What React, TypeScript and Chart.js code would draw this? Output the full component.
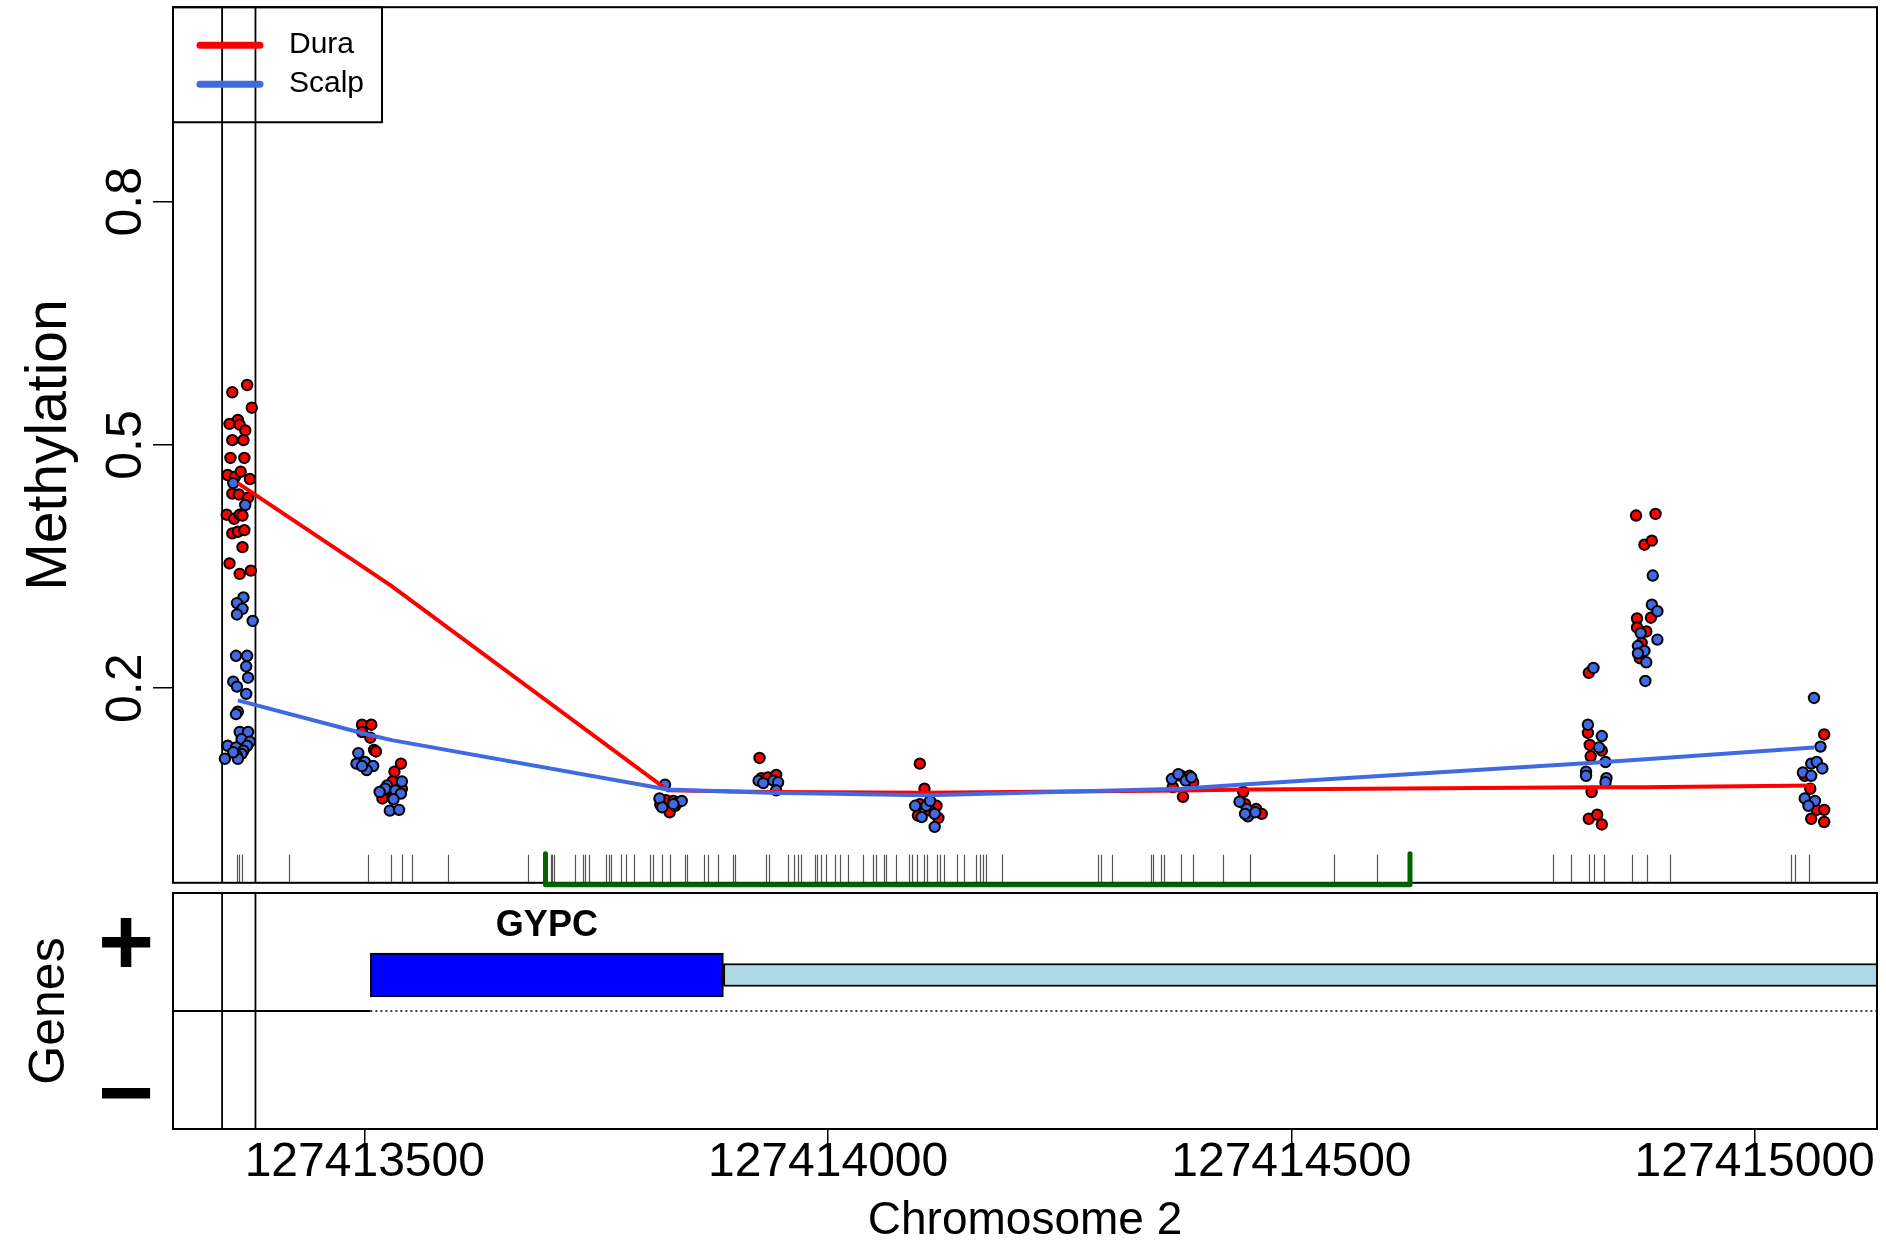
import React, { useEffect, useRef } from 'react';
import { Chart, registerables } from 'chart.js';
Chart.register(...registerables);

const FONT = '"Liberation Sans", Arial, Helvetica, sans-serif';
Chart.defaults.font.family = FONT;
Chart.defaults.color = '#000';

// ---------- axis ranges & ticks ----------
const X_MIN = 127413293;
const X_MAX = 127415132;
const xTickValues = [127413500, 127414000, 127414500, 127415000];
const yTickValues = [0.2, 0.5, 0.8];
const xTitle = 'Chromosome 2';
const yTitle = 'Methylation';
const genesTitle = 'Genes';
const strandTickValues = [0.53, -0.74];
const strandLabels = ['+', '\u2212'];

// ---------- methylation points ----------
const duraPos = [
  127413373, 127413357, 127413378, 127413363, 127413354, 127413365, 127413371, 127413357, 127413369, 127413355,
  127413370, 127413352, 127413360, 127413366, 127413376, 127413357, 127413364, 127413374, 127413351, 127413359,
  127413365, 127413368, 127413357, 127413363, 127413370, 127413368, 127413354, 127413365, 127413377,
  127413497, 127413507, 127413497, 127413506, 127413510, 127413512,
  127413539, 127413532, 127413530, 127413540, 127413520, 127413527, 127413519, 127413531,
  127413825, 127413819, 127413829, 127413833, 127413835,
  127413926, 127413928, 127413935, 127413944,
  127414099, 127414104, 127414099, 127414117, 127414097, 127414119, 127414110,
  127414381, 127414390, 127414372, 127414383, 127414394,
  127414448, 127414450, 127414462, 127414455, 127414468,
  127414821, 127414820, 127414822, 127414823, 127414835, 127414824, 127414821, 127414830, 127414835,
  127414872, 127414893, 127414881, 127414889, 127414873, 127414888, 127414873, 127414883, 127414878, 127414876,
  127415075, 127415054, 127415060, 127415067, 127415075, 127415061, 127415075,
];
const duraMeth = [
  0.574, 0.565, 0.546, 0.531, 0.526, 0.525, 0.518, 0.506, 0.506, 0.484,
  0.484, 0.463, 0.461, 0.467, 0.458, 0.440, 0.439, 0.435, 0.414, 0.409,
  0.414, 0.413, 0.391, 0.393, 0.395, 0.374, 0.354, 0.341, 0.345,
  0.155, 0.155, 0.146, 0.139, 0.124, 0.122,
  0.107, 0.097, 0.085, 0.076, 0.074, 0.067, 0.064, 0.067,
  0.062, 0.056, 0.047, 0.061, 0.055,
  0.114, 0.089, 0.090, 0.093,
  0.107, 0.076, 0.057, 0.055, 0.043, 0.040, 0.049,
  0.092, 0.092, 0.078, 0.066, 0.084,
  0.072, 0.057, 0.051, 0.045, 0.045,
  0.219, 0.145, 0.130, 0.116, 0.123, 0.072, 0.039, 0.044, 0.032,
  0.413, 0.415, 0.377, 0.382, 0.286, 0.287, 0.275, 0.270, 0.256, 0.237,
  0.143, 0.092, 0.076, 0.050, 0.050, 0.039, 0.035,
];
const scalpPos = [
  127413358, 127413371, 127413369, 127413362, 127413368, 127413362, 127413379, 127413361, 127413373, 127413372,
  127413374, 127413358, 127413362, 127413372, 127413363, 127413361, 127413365, 127413374, 127413367, 127413376,
  127413373, 127413352, 127413361, 127413369, 127413367, 127413362, 127413363, 127413349, 127413358,
  127413493, 127413491, 127413500, 127413509, 127413502, 127413497,
  127413524, 127413540, 127413522, 127413533, 127413539, 127413531, 127413527, 127413537, 127413516,
  127413824, 127413818, 127413838, 127413842, 127413821, 127413833,
  127413925, 127413930, 127413941, 127413946, 127413944,
  127414106, 127414115, 127414101, 127414115, 127414110, 127414094,
  127414371, 127414378, 127414386, 127414392,
  127414444, 127414452, 127414453, 127414461, 127414450,
  127414826, 127414820, 127414835, 127414832, 127414839, 127414818, 127414818, 127414840, 127414839,
  127414890, 127414889, 127414895, 127414877, 127414895, 127414874, 127414881, 127414874, 127414883, 127414882,
  127415064, 127415071, 127415061, 127415067, 127415073, 127415052, 127415061, 127415054, 127415065, 127415058,
];
const scalpMeth = [
  0.453, 0.426, 0.312, 0.305, 0.298, 0.291, 0.283, 0.240, 0.240, 0.227,
  0.213, 0.208, 0.202, 0.193, 0.171, 0.168, 0.146, 0.146, 0.137, 0.134,
  0.129, 0.129, 0.127, 0.123, 0.119, 0.117, 0.113, 0.113, 0.121,
  0.120, 0.107, 0.109, 0.104, 0.099, 0.104,
  0.080, 0.085, 0.076, 0.074, 0.070, 0.063, 0.049, 0.050, 0.072,
  0.081, 0.064, 0.059, 0.061, 0.053, 0.057,
  0.086, 0.083, 0.086, 0.084, 0.074,
  0.055, 0.045, 0.041, 0.029, 0.061, 0.055,
  0.088, 0.094, 0.086, 0.090,
  0.060, 0.051, 0.042, 0.047, 0.045,
  0.225, 0.155, 0.141, 0.127, 0.109, 0.097, 0.092, 0.089, 0.084,
  0.339, 0.303, 0.295, 0.268, 0.260, 0.252, 0.246, 0.243, 0.232, 0.209,
  0.188, 0.128, 0.107, 0.109, 0.101, 0.096, 0.092, 0.064, 0.061, 0.055,
];

// ---------- smoothed group means ----------
const smoothPos = [127413363, 127413503, 127413529, 127413827, 127413937, 127414106, 127414381, 127414456, 127414826, 127414878, 127415064];
const duraSmooth = [0.453, 0.346, 0.326, 0.074, 0.072, 0.071, 0.074, 0.075, 0.078, 0.078, 0.080];
const scalpSmooth = [0.185, 0.143, 0.136, 0.075, 0.071, 0.068, 0.076, 0.082, 0.108, 0.112, 0.127];

// ---------- CpG rug, island, DMR ----------
const cpgPos = [
  127413362, 127413364, 127413367, 127413418, 127413503, 127413528, 127413540, 127413551, 127413590, 127413676,
  127413701, 127413702, 127413704, 127413727, 127413736, 127413738, 127413742, 127413760, 127413764, 127413766,
  127413777, 127413782, 127413791, 127413808, 127413811, 127413821, 127413829, 127413846, 127413848, 127413866,
  127413870, 127413881, 127413897, 127413900, 127413933, 127413936, 127413957, 127413963, 127413968, 127413971,
  127413986, 127413988, 127413992, 127413998, 127414007, 127414013, 127414021, 127414038, 127414048, 127414052,
  127414060, 127414062, 127414073, 127414087, 127414091, 127414096, 127414104, 127414107, 127414118, 127414121,
  127414125, 127414139, 127414147, 127414160, 127414164, 127414167, 127414170, 127414188, 127414291, 127414295,
  127414306, 127414348, 127414351, 127414359, 127414362, 127414381, 127414394, 127414426, 127414455, 127414546,
  127414592, 127414782, 127414802, 127414821, 127414827, 127414837, 127414868, 127414884, 127414909, 127415039,
  127415044, 127415059,
];
const islandRange = [127413695, 127414628];
const dmrBounds = [127413346, 127413382];

// ---------- gene model ----------
const geneName = 'GYPC';
const geneStart = 127413506;
const exonEnd = 127413887;
const geneEnd = 127454247;
const geneTrackY = 0.305;
const geneLabelY = 0.72;

const RED = '#FF0000';
const BLUE = '#4169E1';

function zip(xs: number[], ys: number[]) {
  return xs.map((x, i) => ({ x, y: ys[i] }));
}

const topDecor = {
  id: 'topDecor',
  beforeDatasetsDraw(chart: any) {
    const { ctx, chartArea: a, scales } = chart;
    const x = scales.x;
    ctx.save();
    ctx.beginPath();
    ctx.rect(a.left, a.top, a.width, a.height);
    ctx.clip();
    ctx.strokeStyle = '#555';
    ctx.lineWidth = 1.2;
    cpgPos.forEach((p) => {
      const px = Math.round(x.getPixelForValue(p)) + 0.5;
      ctx.beginPath();
      ctx.moveTo(px, a.bottom - 28);
      ctx.lineTo(px, a.bottom);
      ctx.stroke();
    });
    ctx.strokeStyle = '#000';
    ctx.lineWidth = 1.8;
    dmrBounds.forEach((p) => {
      const px = x.getPixelForValue(p);
      ctx.beginPath();
      ctx.moveTo(px, a.top);
      ctx.lineTo(px, a.bottom);
      ctx.stroke();
    });
    ctx.restore();
  },
  afterDraw(chart: any) {
    const { ctx, chartArea: a, scales } = chart;
    const x = scales.x;
    ctx.save();
    // panel box
    ctx.strokeStyle = '#000';
    ctx.lineWidth = 2;
    ctx.strokeRect(a.left, a.top, a.width, a.height);
    // CpG island bracket (drawn over the box edge)
    const x1 = x.getPixelForValue(islandRange[0]);
    const x2 = x.getPixelForValue(islandRange[1]);
    ctx.strokeStyle = '#006400';
    ctx.lineWidth = 5;
    ctx.lineCap = 'round';
    ctx.lineJoin = 'round';
    ctx.beginPath();
    ctx.moveTo(x1, a.bottom - 29);
    ctx.lineTo(x1, a.bottom + 2);
    ctx.lineTo(x2, a.bottom + 2);
    ctx.lineTo(x2, a.bottom - 29);
    ctx.stroke();
    // legend
    const items = chart.data.datasets
      .filter((d: any) => d.legendRank !== undefined)
      .sort((p: any, q: any) => p.legendRank - q.legendRank);
    const lx = a.left, ly = a.top;
    ctx.lineCap = 'butt';
    ctx.strokeStyle = '#000';
    ctx.lineWidth = 2;
    ctx.strokeRect(lx, ly, 209, 115);
    items.forEach((d: any, i: number) => {
      const yy = ly + 38 + i * 39;
      ctx.strokeStyle = d.borderColor;
      ctx.lineWidth = 7;
      ctx.lineCap = 'round';
      ctx.beginPath();
      ctx.moveTo(lx + 27, yy);
      ctx.lineTo(lx + 87, yy);
      ctx.stroke();
      ctx.fillStyle = '#000';
      ctx.font = `30px ${FONT}`;
      ctx.textAlign = 'left';
      ctx.textBaseline = 'middle';
      ctx.fillText(d.label, lx + 116, yy);
    });
    ctx.restore();
  },
};

const bottomDecor = {
  id: 'bottomDecor',
  beforeDatasetsDraw(chart: any) {
    const { ctx, chartArea: a, scales } = chart;
    const x = scales.x;
    ctx.save();
    ctx.strokeStyle = '#000';
    ctx.lineWidth = 1.8;
    dmrBounds.forEach((p) => {
      const px = x.getPixelForValue(p);
      ctx.beginPath();
      ctx.moveTo(px, a.top);
      ctx.lineTo(px, a.bottom);
      ctx.stroke();
    });
    ctx.restore();
  },
  afterDraw(chart: any) {
    const { ctx, chartArea: a, scales } = chart;
    const x = scales.x;
    const y = scales.y;
    ctx.save();
    ctx.fillStyle = '#000';
    ctx.font = `bold 36px ${FONT}`;
    ctx.textAlign = 'center';
    ctx.textBaseline = 'middle';
    const cx = (x.getPixelForValue(geneStart) + x.getPixelForValue(exonEnd)) / 2;
    ctx.fillText(geneName, cx, y.getPixelForValue(geneLabelY));
    ctx.strokeStyle = '#000';
    ctx.lineWidth = 2;
    ctx.strokeRect(a.left, a.top, a.width, a.height);
    ctx.restore();
  },
};

const fitY = (s: any) => { s.width = 173; s.paddingTop = 0; s.paddingBottom = 0; };

export default function App() {
  const topRef = useRef<HTMLCanvasElement>(null);
  const botRef = useRef<HTMLCanvasElement>(null);

  useEffect(() => {
    const top = new Chart(topRef.current as HTMLCanvasElement, {
      type: 'scatter',
      data: {
        datasets: [
          {
            type: 'line', label: 'Scalp', legendRank: 1, data: zip(smoothPos, scalpSmooth),
            borderColor: BLUE, borderWidth: 4, pointRadius: 0, fill: false, tension: 0, order: 0,
          } as any,
          {
            type: 'line', label: 'Dura', legendRank: 0, data: zip(smoothPos, duraSmooth),
            borderColor: RED, borderWidth: 4, pointRadius: 0, fill: false, tension: 0, order: 1,
          } as any,
          {
            type: 'scatter', label: 'Scalp samples', data: zip(scalpPos, scalpMeth),
            pointRadius: 5.2, pointBorderWidth: 2, pointBackgroundColor: BLUE, pointBorderColor: '#000',
            backgroundColor: BLUE, borderColor: '#000', order: 2,
          } as any,
          {
            type: 'scatter', label: 'Dura samples', data: zip(duraPos, duraMeth),
            pointRadius: 5.2, pointBorderWidth: 2, pointBackgroundColor: RED, pointBorderColor: '#000',
            backgroundColor: RED, borderColor: '#000', order: 3,
          } as any,
        ],
      },
      options: {
        animation: false,
        responsive: false,
        devicePixelRatio: 1,
        events: [],
        layout: { padding: { top: 6, right: 9, bottom: 6, left: 0 } },
        plugins: { legend: { display: false }, tooltip: { enabled: false } },
        scales: {
          x: { type: 'linear', min: X_MIN, max: X_MAX, display: false },
          y: {
            type: 'linear', min: -0.04, max: 1.04, offset: false,
            afterBuildTicks: (s: any) => { s.ticks = yTickValues.map((v) => ({ value: v })); },
            afterFit: fitY,
            ticks: {
              font: { family: FONT, size: 50 }, color: '#000', autoSkip: false,
              minRotation: 90, maxRotation: 90, crossAlign: 'center', padding: -9,
              callback: (v: any) => String(v),
            },
            grid: { drawOnChartArea: false, drawTicks: true, tickLength: 20, color: '#000', lineWidth: 1.5 },
            border: { display: false },
            title: { display: true, text: yTitle, color: '#000', font: { family: FONT, size: 57 }, padding: { top: 16, bottom: 0 } },
          },
        },
      } as any,
      plugins: [topDecor],
    });

    const bottom = new Chart(botRef.current as HTMLCanvasElement, {
      type: 'bar',
      data: {
        datasets: [
          {
            type: 'bar', label: 'exon', indexAxis: 'y', grouped: false,
            data: [{ x: [geneStart, exonEnd], y: geneTrackY }],
            backgroundColor: '#0000FF', borderColor: '#000', borderWidth: 2, borderSkipped: false,
            barThickness: 44, order: 0,
          } as any,
          {
            type: 'bar', label: 'intron', indexAxis: 'y', grouped: false,
            data: [{ x: [exonEnd, geneEnd], y: geneTrackY }],
            backgroundColor: '#ADD8E6', borderColor: '#000', borderWidth: 2, borderSkipped: false,
            barThickness: 23, order: 1,
          } as any,
          {
            type: 'line', label: 'strand', indexAxis: 'x',
            data: [{ x: X_MIN, y: 0 }, { x: geneStart, y: 0 }],
            borderColor: '#000', borderWidth: 2, pointRadius: 0, order: 2,
          } as any,
          {
            type: 'line', label: 'strand dotted', indexAxis: 'x',
            data: [{ x: geneStart, y: 0 }, { x: X_MAX, y: 0 }],
            borderColor: '#000', borderWidth: 1.3, borderDash: [2, 3], pointRadius: 0, order: 3,
          } as any,
        ],
      },
      options: {
        animation: false,
        responsive: false,
        devicePixelRatio: 1,
        events: [],
        indexAxis: 'y',
        layout: { padding: { top: 5, right: 9, bottom: 0, left: 0 } },
        plugins: { legend: { display: false }, tooltip: { enabled: false } },
        scales: {
          x: {
            type: 'linear', min: X_MIN, max: X_MAX, offset: false,
            afterBuildTicks: (s: any) => { s.ticks = xTickValues.map((v) => ({ value: v })); },
            afterFit: (s: any) => { s.height = 113; s.paddingLeft = 0; s.paddingRight = 0; },
            ticks: {
              font: { family: FONT, size: 48, lineHeight: 1 }, color: '#000', padding: -4,
              maxRotation: 0, minRotation: 0, autoSkip: false,
              callback: (v: any) => String(v),
            },
            grid: { drawOnChartArea: false, drawTicks: true, tickLength: 14, color: '#000', lineWidth: 1.5, offset: false },
            border: { display: false },
            title: { display: true, text: xTitle, color: '#000', font: { family: FONT, size: 46, lineHeight: 0.9 }, padding: { top: 0, bottom: 0 } },
          },
          y: {
            type: 'linear', min: -1, max: 1, offset: false,
            afterBuildTicks: (s: any) => { s.ticks = strandTickValues.map((v) => ({ value: v })); },
            afterFit: fitY,
            ticks: {
              font: { family: FONT, size: 96, weight: 'bold', lineHeight: 1 }, color: '#000', crossAlign: 'center', padding: 19,
              autoSkip: false,
              callback: (v: any, i: number) => strandLabels[i] ?? '',
            },
            grid: { display: false, drawTicks: false, offset: false },
            border: { display: false },
            title: { display: true, text: genesTitle, color: '#000', font: { family: FONT, size: 50 }, padding: { top: 20, bottom: 0 } },
          },
        },
      } as any,
      plugins: [bottomDecor],
    });

    return () => {
      top.destroy();
      bottom.destroy();
    };
  }, []);

  return (
    <div style={{ position: 'absolute', left: 0, top: 0, width: 1886, height: 1242, background: '#fff' }}>
      <canvas ref={topRef} width={1886} height={890} style={{ position: 'absolute', left: 0, top: 0, width: 1886, height: 890 }} />
      <canvas ref={botRef} width={1886} height={354} style={{ position: 'absolute', left: 0, top: 888, width: 1886, height: 354 }} />
    </div>
  );
}
